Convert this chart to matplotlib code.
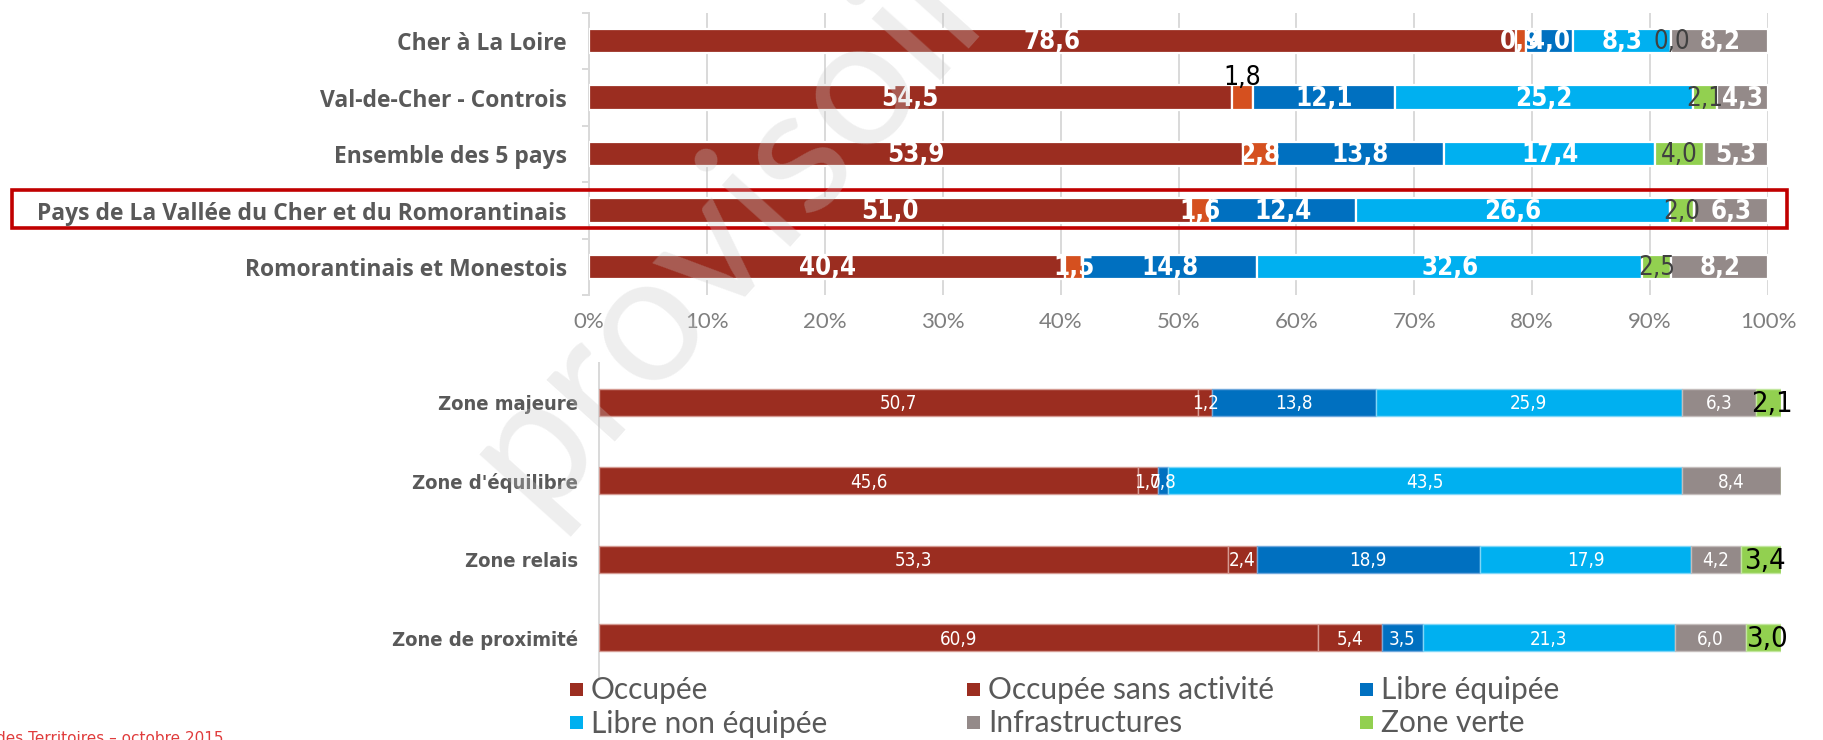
import matplotlib
matplotlib.use("Agg")
import matplotlib.pyplot as plt
from matplotlib import font_manager
from matplotlib.patches import Rectangle
import numpy as np

# ---------------------------------------------------------------- data
top_categories = [
    "Cher à La Loire",
    "Val-de-Cher - Controis",
    "Ensemble des 5 pays",
    "Pays de La Vallée du Cher et du Romorantinais",
    "Romorantinais et Monestois",
]
top_occupee = [78.6, 54.5, 53.9, 51.0, 40.4]
top_sans_activite = [0.9, 1.8, 2.8, 1.6, 1.5]
top_libre_equipee = [4.0, 12.1, 13.8, 12.4, 14.8]
top_libre_non_equipee = [8.3, 25.2, 17.4, 26.6, 32.6]
top_zone_verte = [0.0, 2.1, 4.0, 2.0, 2.5]
top_infrastructures = [8.2, 4.3, 5.3, 6.3, 8.2]

zone_categories = ["Zone majeure", "Zone d'équilibre", "Zone relais", "Zone de proximité"]
zone_occupee = [50.7, 45.6, 53.3, 60.9]
zone_sans_activite = [1.2, 1.7, 2.4, 5.4]
zone_libre_equipee = [13.8, 0.8, 18.9, 3.5]
zone_libre_non_equipee = [25.9, 43.5, 17.9, 21.3]
zone_infrastructures = [6.3, 8.4, 4.2, 6.0]
zone_zone_verte = [2.1, 0.0, 3.4, 3.0]

pct_ticks = list(range(0, 101, 10))
pct_tick_labels = [f"{t}%" for t in pct_ticks]

legend_labels = ["Occupée", "Occupée sans activité", "Libre équipée",
                 "Libre non équipée", "Infrastructures", "Zone verte"]

source_note = "des Territoires – octobre 2015"
watermark = "provisoire"

# ---------------------------------------------------------------- style
RED = "#9B2D20"
ORANGE = "#D5501F"
BLUE = "#0070C0"
CYAN = "#00B0F0"
GREEN = "#92D050"
GREY = "#948A89"
TXT = "#595959"
AXIS = "#D9D9D9"

W, H, DPI = 1823, 740, 100

ttf = font_manager.fontManager.ttflist
names = {f.name for f in ttf}
if "Liberation Sans Narrow" in names:
    COND = dict(family="Liberation Sans Narrow")
elif any(f.name == "DejaVu Sans" and f.stretch in ("condensed", "semi-condensed") for f in ttf):
    COND = dict(family="DejaVu Sans", fontstretch="condensed")
else:
    COND = dict(family="Roboto")
SANS = dict(family="Lato" if "Lato" in names else "DejaVu Sans")
WIDE = dict(family="Open Sans" if "Open Sans" in names else "DejaVu Sans")


def fmt(v):
    return f"{v:.1f}".replace(".", ",")


def px_box(x0, y0, x1, y1):
    return [x0 / W, 1 - y1 / H, (x1 - x0) / W, (y1 - y0) / H]


fig = plt.figure(figsize=(W / DPI, H / DPI), dpi=DPI)
fig.patch.set_facecolor("white")

# ---------------------------------------------------------------- top chart
ax1 = fig.add_axes(px_box(589, 12.8, 1768, 295.3))
top_series = [top_occupee, top_sans_activite, top_libre_equipee,
              top_libre_non_equipee, top_zone_verte, top_infrastructures]
top_colors = [RED, ORANGE, BLUE, CYAN, GREEN, GREY]
top_text = ["white", "white", "white", "white", "#404040", "white"]
top_weight = ["bold", "bold", "bold", "bold", "normal", "bold"]

vals = np.array(top_series, dtype=float)
vals = vals / vals.sum(axis=0) * 100
y = np.arange(len(top_categories))
h1 = 0.44
left = np.zeros(len(top_categories))
for si, (row, raw, col, tc, fw) in enumerate(zip(vals, top_series, top_colors,
                                                 top_text, top_weight)):
    ax1.barh(y, row, left=left, height=h1, color=col, edgecolor="white",
             linewidth=1.6, zorder=3)
    for i, (w, r) in enumerate(zip(row, raw)):
        cx = left[i] + w / 2
        if si == 1 and i == 1:
            # label lifted above its thin segment
            ax1.text(cx, y[i] - h1 / 2 + 0.1, fmt(r), ha="center", va="bottom",
                     color="black", fontsize=19, zorder=5, **COND)
        else:
            ax1.text(cx, y[i] + 0.02, fmt(r), ha="center", va="center",
                     color=tc, fontsize=18.5, fontweight=fw, zorder=5, **COND)
    left += row

ax1.set_xlim(0, 100)
ax1.set_ylim(len(top_categories) - 0.5, -0.5)
ax1.set_xticks(pct_ticks)
ax1.set_xticklabels(pct_tick_labels, color="#7F7F7F", fontsize=16, **SANS)
ax1.tick_params(axis="x", length=0, pad=12)
ax1.grid(axis="x", color=AXIS, linewidth=1.4, zorder=0)
ax1.set_axisbelow(True)
ax1.set_yticks(y)
ax1.set_yticklabels(top_categories, color=TXT, fontsize=16.5, fontweight="bold", **WIDE)
ax1.tick_params(axis="y", length=0, pad=16)
ax1.set_yticks(np.arange(-0.5, len(top_categories)), minor=True)
ax1.tick_params(axis="y", which="minor", length=5, color=AXIS, width=1.4)
for s in ("top", "right", "bottom"):
    ax1.spines[s].set_visible(False)
ax1.spines["left"].set_color(AXIS)
ax1.spines["left"].set_linewidth(1.4)

# ---------------------------------------------------------------- bottom chart
ax2 = fig.add_axes(px_box(599, 363, 1781, 677))
zone_series = [zone_occupee, zone_sans_activite, zone_libre_equipee,
               zone_libre_non_equipee, zone_infrastructures, zone_zone_verte]
zone_colors = [RED, RED, BLUE, CYAN, GREY, GREEN]
zone_edges = ["#D49A92", "#D49A92", "#6FA8DC", "#7FD6F7", "#C4BDBC", "#C2E69F"]

zv = np.array(zone_series, dtype=float)
zv = zv / zv.sum(axis=0) * 100
y2 = np.arange(len(zone_categories))
h2 = 0.34
left = np.zeros(len(zone_categories))
for si, (row, raw, col, ec) in enumerate(zip(zv, zone_series, zone_colors, zone_edges)):
    ax2.barh(y2, row, left=left, height=h2, color=col, edgecolor=ec,
             linewidth=1.0, zorder=3)
    for i, (w, r) in enumerate(zip(row, raw)):
        if r == 0:
            continue
        cx = left[i] + w / 2
        if si == len(zone_series) - 1:
            ax2.text(cx + 0.3, y2[i] + 0.02, fmt(r), ha="center", va="center",
                     color="black", fontsize=21, zorder=5, clip_on=False, **COND)
        else:
            ax2.text(cx, y2[i] + 0.02, fmt(r), ha="center", va="center",
                     color="white", fontsize=13.5, zorder=5, **COND)
    left += row

ax2.set_xlim(0, 100)
ax2.set_ylim(len(zone_categories) - 0.5, -0.5)
ax2.set_xticks([])
ax2.set_yticks(y2)
ax2.set_yticklabels(zone_categories, color=TXT, fontsize=14.5, fontweight="bold", **COND)
ax2.tick_params(axis="y", length=0, pad=15)
for s in ("top", "right", "bottom"):
    ax2.spines[s].set_visible(False)
ax2.spines["left"].set_color(AXIS)
ax2.spines["left"].set_linewidth(1.4)

# ---------------------------------------------------------------- legend
legend_colors = [RED, RED, BLUE, CYAN, GREY, GREEN]
col_x = [570, 967, 1360]
row_y = [689, 722.5]
sq = 13
for k, (lab, col) in enumerate(zip(legend_labels, legend_colors)):
    cx, ry = col_x[k % 3], row_y[k // 3]
    fig.patches.append(Rectangle((cx / W, 1 - (ry + sq / 2) / H), sq / W, sq / H,
                                 transform=fig.transFigure, facecolor=col,
                                 edgecolor="none"))
    fig.text((cx + sq + 8) / W, 1 - (ry + 1) / H, lab, ha="left", va="center",
             color=TXT, fontsize=21.5, **SANS)

# ---------------------------------------------------------------- highlight frame
fig.patches.append(Rectangle((12 / W, 1 - 228 / H), (1787 - 12) / W, (228 - 190) / H,
                             transform=fig.transFigure, facecolor="none",
                             edgecolor="#C00000", linewidth=2.6, zorder=6))

# ---------------------------------------------------------------- footer & watermark
fig.text(-4 / W, 1 - 731 / H, source_note, ha="left", va="top",
         color="#E03C3C", fontsize=11)
fig.text(762 / W, 1 - 188 / H, watermark, ha="center", va="center",
         rotation=48, fontsize=130, color="#C8C8C8", alpha=0.3, zorder=10,
         **SANS)

fig.savefig("out.png", dpi=DPI, facecolor="white")
